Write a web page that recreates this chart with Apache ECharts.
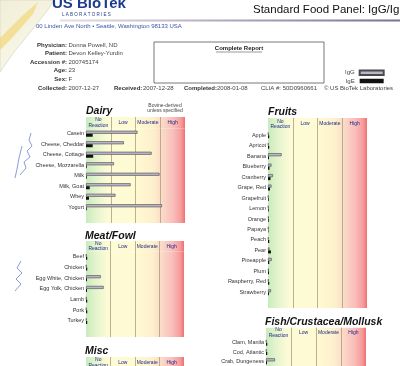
<!DOCTYPE html>
<html><head><meta charset="utf-8">
<script src="https://cdn.jsdelivr.net/npm/echarts@6/dist/echarts.min.js"></script>
<style>html,body{margin:0;padding:0;background:#fff}#c{width:400px;height:366px}</style>
</head><body><div id="c"></div>
<script>
// ---- data ----
const zones = ['No\nReaction', 'Low', 'Moderate', 'High'];
const dairyFoods = ['Casein','Cheese, Cheddar','Cheese, Cottage','Cheese, Mozzarella','Milk','Milk, Goat','Whey','Yogurt'];
const dairyIgG = [2.08,1.53,2.65,1.13,2.97,1.8,1.19,3.07];
const dairyIgE = [0.27,0.27,0.29,0.03,0.03,0.15,0.12,0.03];
const meatFoods = ['Beef','Chicken','Egg White, Chicken','Egg Yolk, Chicken','Lamb','Pork','Turkey'];
const meatIgG = [0.02,0.02,0.6,0.72,0.02,0.02,0.02];
const meatIgE = [0.05,0.05,0.04,0.04,0.05,0.05,0.05];
const fruitFoods = ['Apple','Apricot','Banana','Blueberry','Cranberry','Grape, Red','Grapefruit','Lemon','Orange','Papaya','Peach','Pear','Pineapple','Plum','Raspberry, Red','Strawberry'];
const fruitIgG = [0.02,0.02,0.55,0.14,0.2,0.14,0.02,0.02,0.03,0.02,0.02,0.06,0.15,0.03,0.02,0.12];
const fruitIgE = [0.05,0.05,0.04,0.06,0.1,0.08,0.03,0.03,0.03,0.02,0.05,0.12,0.05,0.04,0.05,0.04];
const fishFoods = ['Clam, Manila','Cod, Atlantic','Crab, Dungeness'];
const fishIgG = [0.02,0.02,0.36];
const fishIgE = [0.05,0.05,0.04];

const chart = echarts.init(document.getElementById('c'), null, {renderer:'canvas'});
const FF = '"Liberation Sans", Arial, sans-serif';
function grad(){
  return new echarts.graphic.LinearGradient(0,0,1,0,[
    {offset:0,color:'#c8ebbd'},{offset:0.1,color:'#e4f4cd'},{offset:0.22,color:'#fdfbd6'},
    {offset:0.5,color:'#fffad2'},{offset:0.68,color:'#fdf0cc'},{offset:0.76,color:'#fbdcc8'},
    {offset:0.88,color:'#f9bebb'},{offset:0.96,color:'#f59c9c'},{offset:1,color:'#f27070'}]);
}
const divider = {show:true, showMinLine:false, showMaxLine:false, lineStyle:{color:'#a99d7f', width:0.8}};
const grids = [], xAxes = [], yAxes = [], series = [];
function panel(left, top, width, hh, bodyH, foods, igg, ige, blank){
  let gi = grids.length;
  grids.push({left, top, width, height:hh, show:true, backgroundColor:grad(), borderWidth:0});
  xAxes.push({type:'category', gridIndex:gi, data:zones, position:'top', axisLine:{show:false}, axisTick:{show:false},
    axisLabel:{inside:true, margin:hh/2, verticalAlign:'middle', interval:0, fontSize:5, lineHeight:5.5, color:'#1e2a8a', fontFamily:FF},
    splitLine:divider});
  yAxes.push({type:'value', gridIndex:gi, show:false});
  if (!foods) return;
  gi = grids.length;
  grids.push({left, top:top+hh, width, height:bodyH, show:true, backgroundColor:grad(), borderWidth:0});
  xAxes.push({type:'value', gridIndex:gi, min:0, max:4, interval:1, axisLabel:{show:false}, axisLine:{show:false}, axisTick:{show:false}, splitLine:divider});
  yAxes.push({type:'category', gridIndex:gi, inverse:true, data: blank ? foods.concat(['']) : foods,
    axisLine:{show:false}, axisTick:{show:false}, axisLabel:{fontSize:5.5, color:'#333', margin:2, fontFamily:FF, interval:0}});
  const idx = xAxes.length-1;
  series.push({type:'bar', name:'IgG', xAxisIndex:idx, yAxisIndex:idx, data:igg, barWidth:3, barGap:'0%',
    itemStyle:{color:'#bab5c8', borderColor:'#4a4a4a', borderWidth:0.6}});
  series.push({type:'bar', name:'IgE', xAxisIndex:idx, yAxisIndex:idx, data:ige, barWidth:3, barGap:'0%',
    itemStyle:{color:'#111'}});
}
panel(86, 117, 99, 11.5, 94.5, dairyFoods, dairyIgG, dairyIgE, true);
panel(268, 118, 99, 12, 178, fruitFoods, fruitIgG, fruitIgE, true);
panel(86, 241, 98, 10.5, 85.5, meatFoods, meatIgG, meatIgE, true);
panel(266, 327.7, 100, 10.3, 31.5, fishFoods, fishIgG, fishIgE, false);
panel(86, 357, 98, 11, 0, null);

function T(text, x, y, font, fill, align){
  return {type:'text', silent:true, style:{text, x, y, font, fill:fill||'#333', textAlign:align||'left', textVerticalAlign:'middle'}};
}
const lab = 'bold 6px ' + FF, val = '6px ' + FF;
const info = [['Physician:','Donna Powell, ND',45],['Patient:','Devon Kelley-Yurdin',53.7],['Accession #:','200745174',62],
  ['Age:','23',70.7],['Sex:','F',79.3],['Collected:','2007-12-27',88]];
const g = [];
// page curl
g.push({type:'polygon', silent:true, shape:{points:[[0,0],[54,0],[47,11],[32,30],[14,52],[0,72]]},
  style:{fill:new echarts.graphic.LinearGradient(0,0,1,1,[{offset:0,color:'#f1eed6'},{offset:1,color:'#fbfaf0'}]), stroke:'#dcd8c6', lineWidth:0.8}});
g.push({type:'polygon', silent:true, shape:{points:[[0,38],[22,16],[38,2],[33,14],[12,38],[0,50]]},
  style:{fill:'rgba(240,205,80,0.5)'}});
// logo & title
g.push(T('US BioTek', 52, 3.5, 'bold 15px ' + FF, '#1d3c8e'));
g.push(T('L A B O R A T O R I E S', 62, 14.5, '4.5px ' + FF, '#1d3c8e'));
g.push(T('Standard Food Panel: IgG/IgE', 253, 10, '11.5px ' + FF, '#111'));
g.push({type:'line', silent:true, shape:{x1:60,y1:20.5,x2:400,y2:20.5},
  style:{stroke:new echarts.graphic.LinearGradient(0,0,1,0,[{offset:0,color:'#e4e0ea'},{offset:1,color:'#7a6f8e'}]), lineWidth:2}});
g.push(T('00 Linden Ave North \u2022 Seattle, Washington 98133 USA', 36, 26, '6px ' + FF, '#3a56a8'));
info.forEach(r => { g.push(T(r[0], 67, r[2], lab, '#333', 'right')); g.push(T(r[1], 68.5, r[2], val, '#444')); });
g.push(T('Received:', 114, 88.5, lab, '#333')); g.push(T('2007-12-28', 143, 88.5, val, '#444'));
g.push(T('Completed:', 184, 88.5, lab, '#333')); g.push(T('2008-01-08', 217, 88.5, val, '#444'));
g.push(T('CLIA #: 50D0960661', 261, 88.5, val, '#444'));
g.push(T('\u00a9 US BioTek Laboratories', 324, 88.5, val, '#444'));
g.push({type:'rect', silent:true, shape:{x:154,y:42,width:170,height:41}, style:{fill:'none', stroke:'#555', lineWidth:0.8}});
g.push(T('Complete Report', 239, 48.5, lab, '#222', 'center'));
g.push({type:'line', silent:true, shape:{x1:216,y1:52,x2:262,y2:52}, style:{stroke:'#333', lineWidth:0.5}});
// panel titles
const tf = 'italic bold 10.5px ' + FF;
g.push(T('Dairy', 86, 111, tf, '#111'));
g.push(T('Fruits', 268, 112.5, tf, '#111'));
g.push(T('Meat/Fowl', 85, 236, tf, '#111'));
g.push(T('Fish/Crustacea/Mollusk', 265, 322, tf, '#111'));
g.push(T('Misc', 85, 351, tf, '#111'));
g.push(T('Bovine-derived', 165, 106, '5px ' + FF, '#444', 'center'));
g.push(T('unless specified', 165, 111, '5px ' + FF, '#444', 'center'));
// handwritten notes
g.push({type:'polyline', silent:true, shape:{points:[[31,133],[29,140],[32,146],[27,151],[30,157],[24,162],[26,168],[20,175]]}, style:{stroke:'#5872cc', lineWidth:0.7, fill:null}});
g.push({type:'polyline', silent:true, shape:{points:[[22,146],[19,158],[17,169],[15,178]]}, style:{stroke:'#5872cc', lineWidth:0.7, fill:null}});
g.push({type:'polyline', silent:true, shape:{points:[[21,261],[17,268],[22,273],[16,279],[21,284],[15,291]]}, style:{stroke:'#5872cc', lineWidth:0.7, fill:null}});

chart.setOption({
  animation:false,
  backgroundColor:'#fff',
  legend:{data:['IgG','IgE'], orient:'vertical', left:345, top:69.5, align:'right', padding:0, itemGap:2,
    itemWidth:24, itemHeight:4.5, textStyle:{fontSize:6, color:'#444', fontFamily:FF, padding:[0,0,0,0]}, icon:'rect', selectedMode:false},
  grid:grids, xAxis:xAxes, yAxis:yAxes, series:series, graphic:g
});
</script></body></html>
